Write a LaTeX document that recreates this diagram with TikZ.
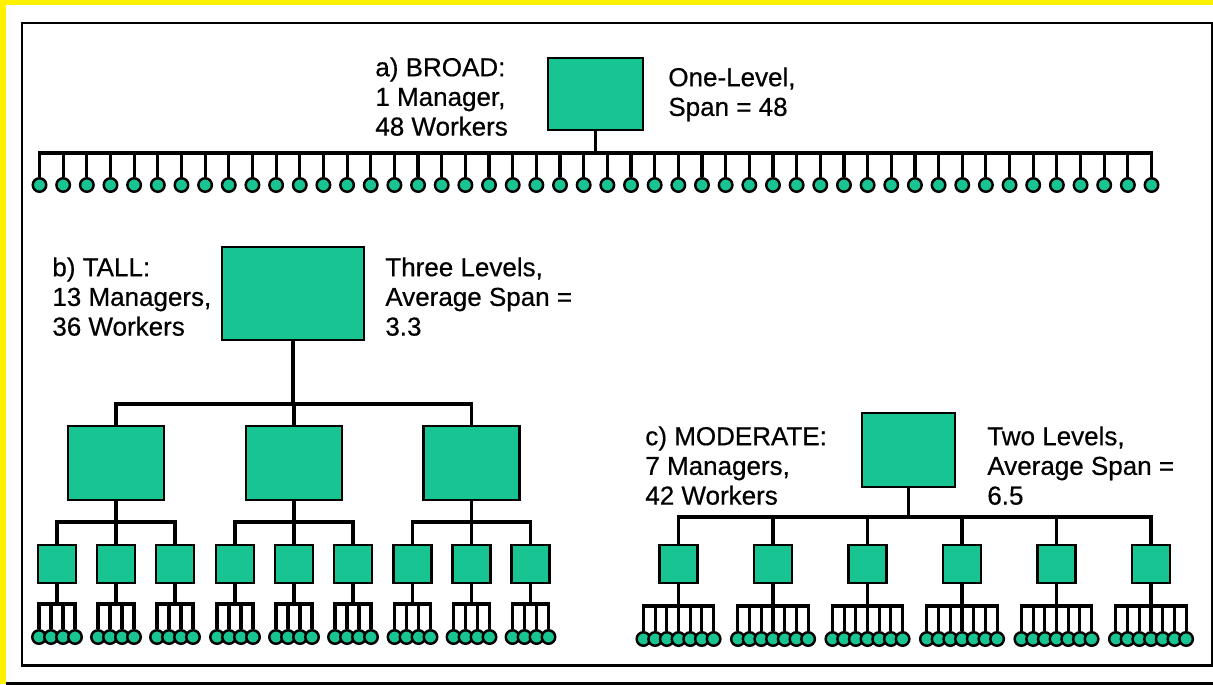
\documentclass[tikz,border=0pt]{standalone}
\usepackage{fontspec}
\setmainfont{Liberation Sans}
\newfontfamily\notefont{Liberation Sans}[FakeBold=0.5]
\usetikzlibrary{positioning}
\definecolor{orggreen}{RGB}{24,196,146}
\tikzset{
  mgr/.style={draw=black, fill=orggreen, line width=1.5pt, inner sep=0pt},
  topmgr/.style={mgr, minimum width=1.9cm, minimum height=1.44cm},
  bigmgr/.style={mgr, minimum width=2.84cm, minimum height=1.86cm},
  midmgr/.style={mgr, minimum width=1.92cm, minimum height=1.48cm},
  lowmgr/.style={mgr, minimum width=0.76cm, minimum height=0.76cm},
  worker/.style={circle, draw=black, fill=orggreen, line width=1.4pt, minimum size=0.27cm, inner sep=0pt},
  tie/.style={line width=1.8pt},
  note/.style={font=\notefont\fontsize{14.8}{16.9}\selectfont, align=left, anchor=north west, inner sep=0pt},
}
\begin{document}
\begin{tikzpicture}[x=0.02cm, y=-0.02cm]
  \useasboundingbox (0,0) rectangle (1213,684);
  % Page and frame
  \fill[white] (0,0) rectangle (1213,684);
  \fill[yellow] (0,0) rectangle (1213,5);
  \fill[yellow] (0,0) rectangle (6,684);
  \draw[line width=1.7pt] (22,23) rectangle (1212,665);
  \draw[line width=1.7pt] (6,683) -- (1213,683);

  % a) Broad: one manager, 48 workers
  \node[topmgr] (broad) at (595.5,94) {};
  \coordinate (broadbus) at (595.5,153);
  \foreach \i in {1,...,48} {
    \node[worker] (bw\i) at ({39.5+(\i-1)*23.66},185) {};
    \draw[tie] (broad.south) -- (broadbus) -| (bw\i.north);
  }
  \node[note] (broadleft) at (375,57) {a) BROAD:\\1 Manager,\\48 Workers};
  \node[note] (broadright) at (668,67) {One-Level,\\Span = 48};

  % b) Tall: three levels
  \node[bigmgr] (tall) at (293,293.5) {};
  \coordinate (tallbus) at (293,404);
  \foreach \m/\x in {1/116, 2/294, 3/471.5} {
    \node[midmgr] (tm\m) at (\x,463) {};
    \draw[tie] (tall.south) -- (tallbus) -| (tm\m.north);
    \coordinate (tmbus\m) at (\x,522);
    \foreach \s/\dx in {1/-59, 2/0, 3/59} {
      \node[lowmgr] (ts\m\s) at ({\x+\dx},564) {};
      \draw[tie] (tm\m.south) -- (tmbus\m) -| (ts\m\s.north);
      \coordinate (tsbus\m\s) at ({\x+\dx},604);
      \foreach \w in {1,...,4} {
        \node[worker] (tw\m\s\w) at ({\x+\dx+(\w-2.5)*12},637) {};
        \draw[tie] (ts\m\s.south) -- (tsbus\m\s) -| (tw\m\s\w.north);
      }
    }
  }
  \node[note] (tallleft) at (52,257) {b) TALL:\\13 Managers,\\36 Workers};
  \node[note] (tallright) at (385,257) {Three Levels,\\Average Span =\\3.3};

  % c) Moderate: two levels
  \node[midmgr, minimum width=1.86cm] (mod) at (908.5,450) {};
  \coordinate (modbus) at (908.5,517);
  \foreach \k in {1,...,6} {
    \node[lowmgr] (ms\k) at ({678.5+(\k-1)*94.5},564) {};
    \draw[tie] (mod.south) -- (modbus) -| (ms\k.north);
    \coordinate (msbus\k) at ({678.5+(\k-1)*94.5},606);
    \foreach \w in {1,...,7} {
      \node[worker] (mw\k\w) at ({678.5+(\k-1)*94.5+(\w-4)*11.7},639) {};
      \draw[tie] (ms\k.south) -- (msbus\k) -| (mw\k\w.north);
    }
  }
  \node[note] (modleft) at (645,426) {c) MODERATE:\\7 Managers,\\42 Workers};
  \node[note] (modright) at (987,426) {Two Levels,\\Average Span =\\6.5};
\end{tikzpicture}
\end{document}
